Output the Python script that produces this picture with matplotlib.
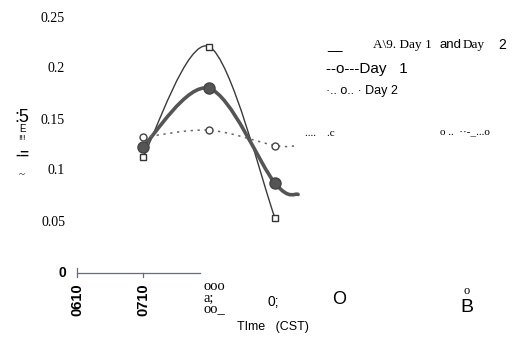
import matplotlib
matplotlib.use('Agg')
import matplotlib.pyplot as plt
from matplotlib.path import Path
from matplotlib.patches import PathPatch

# values
hours = [7, 8, 9]
day_avg = [0.124, 0.181, 0.088]
day1 = [0.114, 0.222, 0.054]
day2 = [0.133, 0.140, 0.125]
# the avg and day 2 curves run on a bit past the last marker
tail_hour = 9.35
day_avg_tail = 0.077
day2_tail = 0.125

ytick_vals = [0.05, 0.1, 0.15, 0.2, 0.25]
ytick_labels = ['0.05', '0.1', '0.15', '0.2', '0.25']
xtick_vals = [6, 7]
xtick_labels = ['0610', '0710']

SERIF = 'Liberation Serif'
SANS = 'Liberation Sans'
W, H = 512, 337


def px(x, y):
    # pixel position -> axes fraction (axes fills the figure)
    return x / W, 1 - y / H


def smooth_path(xs, ys):
    # catmull-rom through the points, drawn as bezier segments by matplotlib
    pts = list(zip(xs, ys))
    verts = [pts[0]]
    codes = [Path.MOVETO]
    for i in range(len(pts) - 1):
        p0 = pts[i - 1] if i > 0 else pts[i]
        p1 = pts[i]
        p2 = pts[i + 1]
        p3 = pts[i + 2] if i + 2 < len(pts) else pts[i + 1]
        c1 = (p1[0] + (p2[0] - p0[0]) / 6, p1[1] + (p2[1] - p0[1]) / 6)
        c2 = (p2[0] - (p3[0] - p1[0]) / 6, p2[1] - (p3[1] - p1[1]) / 6)
        verts += [c1, c2, p2]
        codes += [Path.CURVE4] * 3
    return Path(verts, codes)


def txt(x, y, s, size, fam, **kw):
    kw.setdefault('ha', 'left')
    kw.setdefault('va', 'center')
    ax.text(*px(x, y), s, transform=ax.transAxes, fontsize=size, family=fam, **kw)


fig = plt.figure(figsize=(5.12, 3.37), dpi=100)
ax = fig.add_axes([0, 0, 1, 1])
# 66 px per hour with 0610 at x=77, 1020 px per unit with 0 at y=273
ax.set_xlim(6 - 77 / 66, 6 + (W - 77) / 66)
ax.set_ylim(-(H - 273) / 1020, 273 / 1020)
ax.axis('off')

# curves
ax.add_patch(PathPatch(smooth_path(hours, day1), fc='none', ec='#3a3a3a', lw=1.0))
ax.add_patch(PathPatch(smooth_path(hours + [tail_hour], day_avg + [day_avg_tail]),
                       fc='none', ec='#555555', lw=2.6, capstyle='round'))
ax.add_patch(PathPatch(smooth_path(hours + [tail_hour], day2 + [day2_tail]),
                       fc='none', ec='#666666', lw=1.1, ls=(0, (1.5, 3))))

# markers
ax.plot(hours, day1, ls='none', marker='s', ms=5, mfc='white', mec='#333333', mew=1)
ax.plot(hours, day_avg, ls='none', marker='o', ms=8, mfc='#555555', mec='#444444')
ax.plot(hours, day2, ls='none', marker='o', ms=5, mfc='white', mec='#444444', mew=1)

# broken bottom axis
ax.plot([6, 7.86], [0, 0], color='#5d6f80', lw=0.9)
for xt in xtick_vals:
    ax.plot([xt, xt], [-0.004, 0.005 if xt == 6 else 0.0], color='#5d6f80', lw=0.9)
txt(66, 273, '0', 10, SANS, ha='right', fontweight='bold')

ytr = ax.get_yaxis_transform()
for v, lab in zip(ytick_vals, ytick_labels):
    ax.text(65 / W, v, lab, transform=ytr, ha='right', va='center', fontsize=10, family=SERIF)

xtr = ax.get_xaxis_transform()
for v, lab in zip(xtick_vals, xtick_labels):
    ax.text(v, 1 - 300 / H, lab, transform=xtr, ha='center', va='center', rotation=90,
            fontsize=10.5, fontweight='bold', family=SANS)

# garbled y label
txt(22, 117, ':5', 13, SANS, ha='center')
txt(22, 129, 'E', 7, SANS, ha='center')
txt(22, 139, '!!!', 6, SANS, ha='center')
txt(22, 155, '-=', 11, SANS, ha='center', fontweight='bold')
txt(22, 175, '~', 8, SERIF, ha='center')

# legend, as scanned
txt(327, 45, '__', 10, SANS)
txt(373, 45, 'A\\9. Day 1', 9.5, SERIF)
txt(439, 45, 'and', 9.5, SANS)
txt(463, 45, 'Day', 9.5, SERIF)
txt(498, 45, '2', 10, SANS)
txt(326, 69, '--o---Day   1', 11, SANS)
txt(326, 91, '·.. o.. · Day 2', 9, SANS)

# stray bits of the day 2 line
txt(305, 134, '....    .c', 8, SERIF)
txt(440, 132, 'o ..  ··-_...o', 8, SERIF)

# stray bottom labels
txt(203, 298, 'ooo\na;\noo_', 10.5, SERIF, linespacing=0.8)
txt(267, 302, '0;', 10, SANS)
txt(339, 300, 'O', 13, SANS, ha='center')
txt(467, 291, 'o', 9, SERIF, ha='center')
txt(467, 307, 'B', 14, SANS, ha='center')
txt(237, 327, 'TIme   (CST)', 9, SANS)

fig.savefig('out.png', dpi=100, facecolor='white')
